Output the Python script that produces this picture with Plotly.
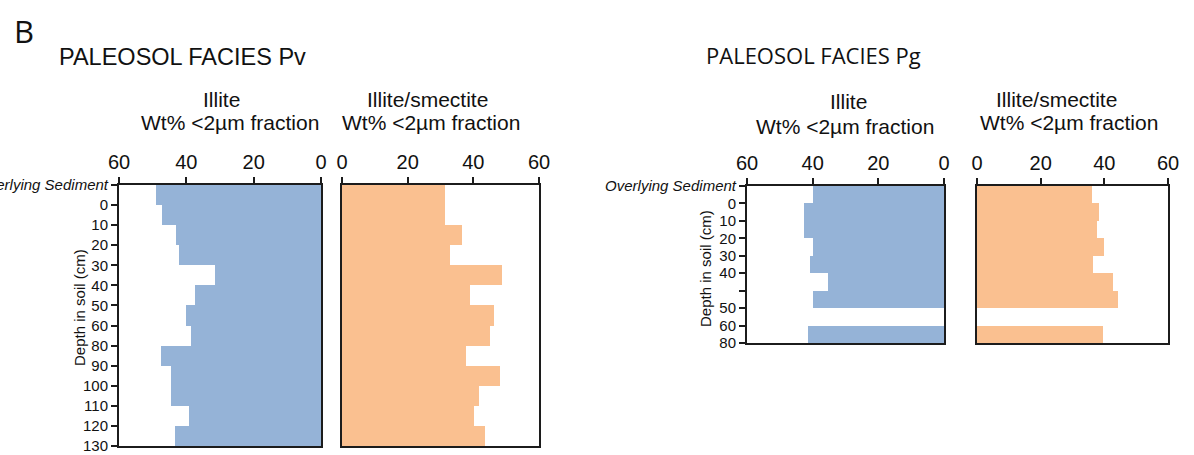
import plotly.graph_objects as go

# ---------------- data ----------------
pv_depth_labels = ["<i>Overlying Sediment</i>", "0", "10", "20", "30", "40", "50", "60",
                   "80", "90", "100", "110", "120", "130"]
pv_illite = [49.1, 47.3, 43.1, 42.3, 31.4, 37.5, 40.2, 38.6, 47.6, 44.5, 44.7, 39.3, 43.4]
pv_illite_smectite = [31.3, 31.3, 36.4, 32.9, 48.6, 39.0, 46.4, 45.1, 37.7, 48.2, 41.8, 40.3, 43.6]

pg_depth_labels = ["<i>Overlying Sediment</i>", "0", "10", "20", "30", "40", "", "50", "60", "80"]
pg_illite = [39.8, 42.5, 42.5, 40.0, 40.8, 35.4, 39.8, None, 41.5]
pg_illite_smectite = [36.0, 38.4, 37.6, 40.0, 36.3, 42.8, 44.4, None, 39.7]

x_ticks = [0, 20, 40, 60]

# ---------------- style ----------------
W, H = 1194, 455
BLUE = "#95B3D7"
ORANGE = "#FAC090"
LINE = "#1c1c1c"
ARIAL = "Arial"
MYRIAD = "Open Sans"


def fx(px):
    return px / W


def fy(py):
    return 1 - py / H


fig = go.Figure()


def add_bars(values, color, xa, ya):
    centers = [i + 0.5 for i in range(len(values))]
    fig.add_trace(go.Bar(x=values, y=centers, orientation="h", width=1.0,
                         marker=dict(color=color, line=dict(width=0)),
                         xaxis=xa, yaxis=ya, showlegend=False, hoverinfo="x+y"))


add_bars(pv_illite, BLUE, "x", "y")
add_bars(pv_illite_smectite, ORANGE, "x2", "y2")
add_bars(pg_illite, BLUE, "x3", "y3")
add_bars(pg_illite_smectite, ORANGE, "x4", "y4")

common_x = dict(side="top", showgrid=False, zeroline=False, showline=True, mirror=True,
                linecolor=LINE, linewidth=2, ticks="outside", ticklen=6, tickwidth=1.5,
                tickcolor=LINE, tickvals=x_ticks, automargin=False,
                tickfont=dict(family=ARIAL, size=20, color="#111"), fixedrange=True)
common_y = dict(showgrid=False, zeroline=False, showline=True, mirror=True,
                linecolor=LINE, linewidth=2, fixedrange=True, automargin=False)

pv_top, pv_bot = 185, 446
pg_top, pg_bot = 186, 343

fig.update_layout(
    template="none",
    font=dict(family=ARIAL, color="#111"),
    xaxis=dict(common_x, domain=[fx(119), fx(321)], range=[60, 0], anchor="y"),
    xaxis2=dict(common_x, domain=[fx(342), fx(539)], range=[0, 60], anchor="y2"),
    xaxis3=dict(common_x, domain=[fx(747), fx(944)], range=[60, 0], anchor="y3"),
    xaxis4=dict(common_x, domain=[fx(977), fx(1168)], range=[0, 60], anchor="y4"),
    yaxis=dict(common_y, domain=[fy(pv_bot), fy(pv_top)], range=[len(pv_illite), 0],
               anchor="x", tickvals=list(range(len(pv_depth_labels))),
               ticktext=pv_depth_labels, ticks="outside", ticklen=6, tickwidth=1.5,
               tickcolor=LINE, tickfont=dict(family=ARIAL, size=15, color="#111")),
    yaxis2=dict(common_y, domain=[fy(pv_bot), fy(pv_top)], range=[len(pv_illite), 0],
                anchor="x2", showticklabels=False, ticks=""),
    yaxis3=dict(common_y, domain=[fy(pg_bot), fy(pg_top)], range=[len(pg_illite), 0],
                anchor="x3", tickvals=list(range(len(pg_depth_labels))),
                ticktext=pg_depth_labels, ticks="outside", ticklen=6, tickwidth=1.5,
                tickcolor=LINE, tickfont=dict(family=ARIAL, size=15, color="#111")),
    yaxis4=dict(common_y, domain=[fy(pg_bot), fy(pg_top)], range=[len(pg_illite), 0],
                anchor="x4", showticklabels=False, ticks=""),
    bargap=0,
    width=W, height=H, autosize=False,
    margin=dict(l=0, r=0, t=0, b=0, pad=0),
    paper_bgcolor="white", plot_bgcolor="white",
)


def text(x, y, s, size, family=ARIAL, xanchor="center", angle=0):
    fig.add_annotation(x=fx(x), y=fy(y), xref="paper", yref="paper", text=s,
                       showarrow=False, xanchor=xanchor, yanchor="middle",
                       textangle=angle,
                       font=dict(family=family, size=size, color="#111"))


text(12, 31, "B", 31, family=MYRIAD, xanchor="left")
text(57, 57, "PALEOSOL FACIES Pv", 23.5, xanchor="left")
text(704, 55, "PALEOSOL FACIES Pg", 22, family=MYRIAD, xanchor="left")

text(221, 99, "Illite", 21)
text(230, 123, "Wt% <2µm fraction", 21)
text(427, 99, "Illite/smectite", 21)
text(431, 123, "Wt% <2µm fraction", 21)
text(848, 101, "Illite", 21)
text(845, 126, "Wt% <2µm fraction", 21)
text(1056, 99, "Illite/smectite", 21)
text(1069, 123, "Wt% <2µm fraction", 21)

text(79, 308, "Depth in soil (cm)", 15, angle=-90)
text(705, 268, "Depth in soil (cm)", 15, angle=-90)

fig.write_html("out.html", config={"displayModeBar": False},
               post_script="document.body.style.margin='0';document.body.style.overflow='hidden';")
